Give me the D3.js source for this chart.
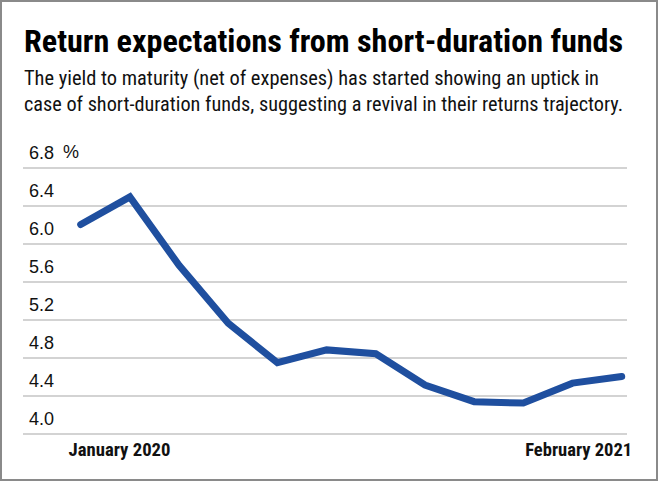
<!DOCTYPE html>
<html>
<head>
<meta charset="utf-8">
<script src="https://cdn.jsdelivr.net/npm/d3@7"></script>
<style>
  html, body { margin: 0; padding: 0; background: #fff; }
  svg { display: block; }
</style>
</head>
<body>
<svg id="chart" width="660" height="482"></svg>
<script>
// ---- data ----
const title = "Return expectations from short-duration funds";
const subtitleLines = [
  "The yield to maturity (net of expenses) has started showing an uptick in",
  "case of short-duration funds, suggesting a revival in their returns trajectory."
];
const periods = [1, 2, 3, 4, 5, 6, 7, 8, 9, 10, 11, 12];
const ytmValues = [6.20, 6.49, 5.77, 5.16, 4.745, 4.88, 4.84, 4.51, 4.335, 4.32, 4.53, 4.60];
const yTicks = [4.0, 4.4, 4.8, 5.2, 5.6, 6.0, 6.4, 6.8];
const xTickValues = [1, 12];
const xTickLabels = ["January 2020", "February 2021"];
const unitLabel = "%";

// ---- drawing ----
const svg = d3.select("#chart");
const condensed = "'Liberation Sans Narrow', 'Roboto Condensed', 'DejaVu Sans Condensed', 'Liberation Sans', Arial, sans-serif";
const regular = "'Liberation Sans', Arial, Helvetica, sans-serif";

// frame
svg.append("rect")
  .attr("x", 1).attr("y", 1).attr("width", 656).attr("height", 479)
  .attr("fill", "#fff").attr("stroke", "#8a8a8a").attr("stroke-width", 2);

// title
svg.append("text")
  .attr("x", 24).attr("y", 52)
  .attr("font-family", condensed).attr("font-weight", "bold").attr("font-size", 32)
  .attr("fill", "#000")
  .attr("textLength", 599).attr("lengthAdjust", "spacingAndGlyphs")
  .text(title);

const subLens = [575, 599];
svg.selectAll("text.sub").data(subtitleLines).enter().append("text")
  .attr("class", "sub")
  .attr("x", 24).attr("y", (d, i) => 84.5 + i * 26)
  .attr("font-family", condensed).attr("font-size", 19.5)
  .attr("fill", "#111")
  .attr("textLength", (d, i) => subLens[i]).attr("lengthAdjust", "spacingAndGlyphs")
  .text(d => d);

// scales
const gridLeft = 23, gridRight = 627;
const x = d3.scalePoint().domain(periods).range([80.7, 621.7]);
const y = d3.scaleLinear().domain([4.0, 6.8]).range([433.5, 167.5]);

// y axis with gridlines
const yAxis = svg.append("g")
  .attr("transform", `translate(${gridRight},0)`)
  .call(d3.axisLeft(y).tickValues(yTicks).tickSize(gridRight - gridLeft).tickFormat(d3.format(".1f")));
yAxis.select(".domain").remove();
yAxis.selectAll(".tick line").attr("stroke", "#c4c4c4").attr("stroke-width", 1.6);
yAxis.selectAll(".tick text")
  .attr("x", -(gridRight - 29)).attr("dy", -9.5)
  .attr("text-anchor", "start")
  .attr("font-family", regular).attr("font-size", 18).attr("fill", "#111");

// unit label next to top tick
svg.append("text")
  .attr("x", 63).attr("y", y(6.8) - 9.5)
  .attr("font-family", regular).attr("font-size", 18).attr("fill", "#111")
  .text(unitLabel);

// x axis labels
const xAxis = svg.append("g")
  .attr("transform", `translate(0,${y(4.0)})`)
  .call(d3.axisBottom(x).tickValues(xTickValues).tickSize(0)
    .tickFormat((d, i) => xTickLabels[i]));
xAxis.select(".domain").remove();
xAxis.selectAll(".tick text")
  .attr("y", 22.5).attr("dy", 0)
  .attr("font-family", condensed).attr("font-weight", "bold").attr("font-size", 18)
  .attr("fill", "#111")
  .attr("text-anchor", (d, i) => i === 0 ? "start" : "end")
  .attr("dx", (d, i) => i === 0 ? -12.7 : 10)
  .attr("textLength", (d, i) => i === 0 ? 102 : 107)
  .attr("lengthAdjust", "spacingAndGlyphs");

// line
const line = d3.line().x((d, i) => x(periods[i])).y(d => y(d));
svg.append("path")
  .datum(ytmValues)
  .attr("d", line)
  .attr("fill", "none")
  .attr("stroke", "#1f4f9f")
  .attr("stroke-width", 7)
  .attr("stroke-linecap", "round")
  .attr("stroke-linejoin", "miter");
</script>
</body>
</html>
